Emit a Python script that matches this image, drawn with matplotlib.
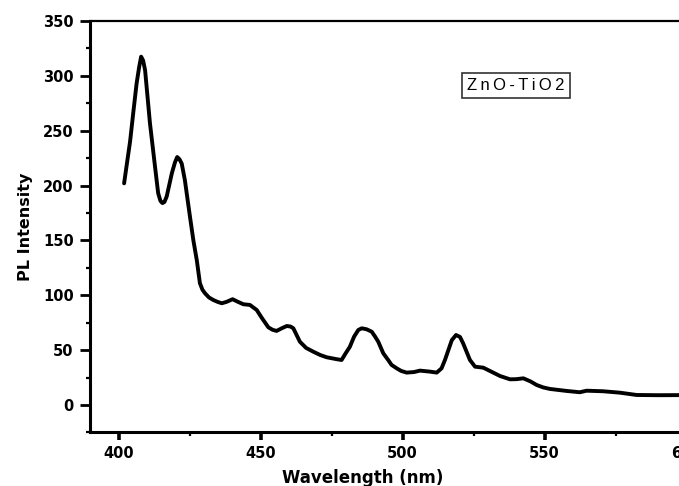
"""PL spectrum of ZnO-TiO2 (recreated from figure)."""
import matplotlib
matplotlib.use("Agg")
import matplotlib.pyplot as plt
from matplotlib.ticker import MultipleLocator

plt.rcParams["font.family"] = ["DejaVu Sans"]

# wavelength (nm) and PL intensity
wavelength = [401.9, 403.0, 404.0, 405.2, 406.3, 407.2, 407.9, 408.6, 409.3, 411.0,
              412.8, 413.9, 414.7, 415.4, 416.1, 416.9, 418.7, 419.8, 420.6, 421.4,
              422.2, 423.3, 425.1, 426.3, 427.5, 428.6, 429.5, 430.4, 431.8, 433.3,
              434.8, 436.3, 438.0, 440.1, 442.0, 443.9, 446.2, 448.6, 450.5, 452.7,
              454.2, 455.6, 457.5, 459.2, 460.5, 461.5, 463.8, 466.0, 468.5, 471.0,
              473.2, 476.8, 478.5, 479.9, 481.4, 482.9, 484.4, 485.6, 487.3, 489.1,
              490.3, 491.4, 493.2, 494.9, 496.1, 497.9, 499.5, 501.4, 504.0, 506.1,
              509.6, 512.0, 513.7, 514.9, 516.1, 517.3, 518.8, 520.2, 521.3, 522.5,
              523.7, 525.5, 528.4, 531.9, 534.3, 537.8, 540.0, 542.5, 545.0, 547.2,
              549.5, 551.9, 557.7, 562.4, 564.8, 570.6, 576.5, 582.4, 590.0, 600.0]
intensity = [202, 222, 240, 268, 293, 308, 317.5, 314, 305, 257,
             217, 193, 186, 184, 185, 190, 211, 221, 226, 224,
             220, 205, 171.6, 150, 132, 111, 105, 101.8, 98, 95.7,
             94, 92.7, 94, 96.4, 94, 91.8, 91.2, 86.6, 79, 70.8,
             68.5, 67.5, 70, 72, 71.5, 69.9, 57.7, 52, 48.6, 45.5,
             43.5, 41.7, 41, 47, 53, 62.3, 68.4, 69.9, 69, 66.8,
             62.3, 57.7, 47, 41, 36.5, 33.4, 31, 29.5, 30, 31.3,
             30.4, 29.5, 33.4, 41, 50, 59, 63.8, 62, 56.2, 48.6,
             41, 34.9, 34, 29.5, 26.4, 23.4, 23.5, 24.3, 21.5, 18.2,
             16, 14.6, 12.8, 11.6, 13, 12.5, 11.2, 9.1, 8.9, 9.0]

x_range = (390, 610)
y_range = (-25, 350)
sample_label = "ZnO-TiO2"

fig = plt.figure(figsize=(6.79, 4.86), dpi=100)
# axes runs past the right edge, as in the cropped original
ax = fig.add_axes([0.133, 0.1103, 0.920, 0.8465])

ax.plot(wavelength, intensity, color="black", linewidth=2.8,
        solid_joinstyle="round", solid_capstyle="round")

ax.set_xlim(*x_range)
ax.set_ylim(*y_range)
ax.xaxis.set_major_locator(MultipleLocator(50))
ax.xaxis.set_minor_locator(MultipleLocator(25))
ax.yaxis.set_major_locator(MultipleLocator(50))
ax.yaxis.set_minor_locator(MultipleLocator(25))
ax.set_yticks([0, 50, 100, 150, 200, 250, 300, 350])

ax.tick_params(which="major", direction="out", length=7, width=2, pad=5,
               labelsize=10.5)
ax.tick_params(axis="x", which="major", width=2.6, length=6, pad=4)
ax.tick_params(which="minor", direction="out", length=3, width=1.6)
ax.tick_params(top=False, right=False)
for lbl in ax.get_xticklabels() + ax.get_yticklabels():
    lbl.set_fontweight("bold")

ax.spines["left"].set_linewidth(2.2)
ax.spines["bottom"].set_linewidth(2.2)
ax.spines["top"].set_linewidth(1.6)
ax.spines["right"].set_linewidth(1.6)

ax.set_xlabel("Wavelength (nm)", fontsize=12, fontweight="bold")
ax.set_ylabel("PL Intensity", fontsize=11.5, fontweight="bold")
ax.xaxis.set_label_coords(0.436, -0.090)
ax.yaxis.set_label_coords(-0.092, 0.5)

ax.text(539.9, 291.4, "\u2009".join(sample_label), fontsize=12, ha="center",
        va="center", family=["Liberation Sans", "DejaVu Sans"],
        bbox=dict(boxstyle="square,pad=0.3", facecolor="white",
                  edgecolor="#333333", linewidth=1.2))

fig.savefig("out.png", dpi=100)
